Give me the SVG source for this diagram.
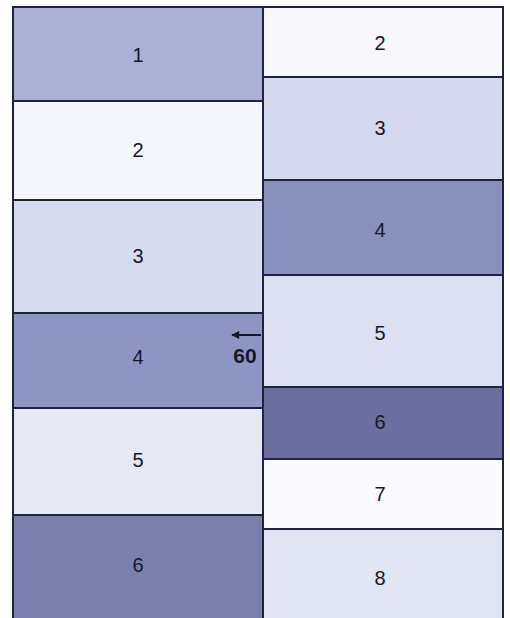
<svg xmlns="http://www.w3.org/2000/svg" width="510" height="618" viewBox="0 0 510 618">
<style>
.c{stroke:#1e2340;stroke-width:2}
.t{font-family:"Liberation Sans",Arial,sans-serif;font-size:20px;fill:#15182a;text-anchor:middle;dominant-baseline:central}
.b{font-weight:bold;font-size:21px}
</style>
<defs>
<marker id="ah" viewBox="0 0 10 10" refX="9" refY="5" markerWidth="11" markerHeight="8" orient="auto-start-reverse" markerUnits="userSpaceOnUse">
<path d="M0,0 L10,5 L0,10 z" fill="#15182a"/>
</marker>
</defs>
<rect width="510" height="618" fill="#ffffff"/>
<g id="L1"><rect class="c" x="13" y="7" width="250" height="94" fill="#a9afd5"/><text class="t" x="138" y="55">1</text></g>
<g id="L2"><rect class="c" x="13" y="101" width="250" height="99" fill="#f5f6fb"/><text class="t" x="138" y="150">2</text></g>
<g id="L3"><rect class="c" x="13" y="200" width="250" height="113" fill="#d7dbee"/><text class="t" x="138" y="256">3</text></g>
<g id="L4"><rect class="c" x="13" y="313" width="250" height="95" fill="#8f95c3"/><text class="t" x="138" y="357">4</text></g>
<g id="L5"><rect class="c" x="13" y="408" width="250" height="107" fill="#e6e8f3"/><text class="t" x="138" y="460">5</text></g>
<g id="L6"><rect class="c" x="13" y="515" width="250" height="106" fill="#7a7fae"/><text class="t" x="138" y="565">6</text></g>
<g id="R2"><rect class="c" x="263" y="7" width="240" height="70" fill="#f8f8fc"/><text class="t" x="380" y="43">2</text></g>
<g id="R3"><rect class="c" x="263" y="77" width="240" height="103" fill="#d5d9ed"/><text class="t" x="380" y="128">3</text></g>
<g id="R4"><rect class="c" x="263" y="180" width="240" height="95" fill="#8a90be"/><text class="t" x="380" y="230">4</text></g>
<g id="R5"><rect class="c" x="263" y="275" width="240" height="112" fill="#dde0f0"/><text class="t" x="380" y="333">5</text></g>
<g id="R6"><rect class="c" x="263" y="387" width="240" height="72" fill="#6a6fa0"/><text class="t" x="380" y="422">6</text></g>
<g id="R7"><rect class="c" x="263" y="459" width="240" height="70" fill="#fafafd"/><text class="t" x="380" y="494">7</text></g>
<g id="R8"><rect class="c" x="263" y="529" width="240" height="92" fill="#e1e4f2"/><text class="t" x="380" y="578">8</text></g>
<g id="connectors">
<line x1="261" y1="335" x2="232" y2="335" stroke="#15182a" stroke-width="2" marker-end="url(#ah)"/>
</g>
<text class="t b" x="245" y="355">60</text>
</svg>
